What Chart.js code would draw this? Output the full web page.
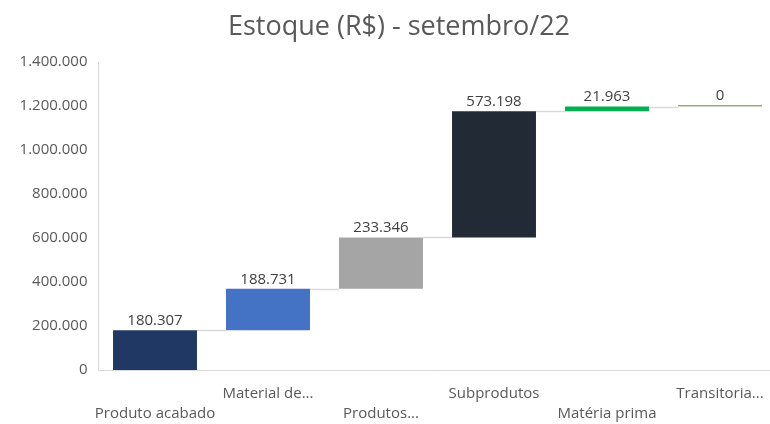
<!DOCTYPE html>
<html>
<head>
<meta charset="utf-8">
<script src="https://cdn.jsdelivr.net/npm/chart.js@4"></script>
<style>
  html, body { margin: 0; padding: 0; background: #fff; overflow: hidden; }
  #wrap { width: 798px; height: 424px; position: relative; }
</style>
</head>
<body>
<div id="wrap"><canvas id="grafico"></canvas></div>
<script>
// Dados
const categorias = ["Produto acabado", "Material de...", "Produtos...", "Subprodutos", "Matéria prima", "Transitoria..."];
const valores = [180307, 188731, 233346, 573198, 21963, 0];
const cores = ["#1F3864", "#4472C4", "#A5A5A5", "#222A35", "#00B050", "#95A97F"];
const yTicks = [0, 200000, 400000, 600000, 800000, 1000000, 1200000, 1400000];

const fonte = "'Open Sans', 'Noto Sans', sans-serif";

// formato 1.234.567
function fmt(v) {
  return String(Math.round(v)).replace(/\B(?=(\d{3})+(?!\d))/g, ".");
}

// barras flutuantes (cascata)
let acumulado = 0;
const barras = valores.map((v) => {
  const ini = acumulado;
  acumulado += v;
  return [ini, acumulado];
});

// linhas de ligação + rótulos de valor
const cascataPlugin = {
  id: "cascata",
  afterDatasetsDraw(chart) {
    const ctx = chart.ctx;
    const meta = chart.getDatasetMeta(0);
    const yScale = chart.scales.y;
    ctx.save();

    // conectores
    ctx.strokeStyle = "#D9D9D9";
    ctx.lineWidth = 1.5;
    for (let i = 0; i < meta.data.length - 1; i++) {
      const a = meta.data[i];
      const b = meta.data[i + 1];
      const y = Math.round(yScale.getPixelForValue(barras[i][1])) + 0.5;
      ctx.beginPath();
      ctx.moveTo(a.x + a.width / 2, y);
      ctx.lineTo(b.x - b.width / 2, y);
      ctx.stroke();
    }

    // rótulos
    ctx.fillStyle = "#404040";
    ctx.font = "15px " + fonte;
    ctx.textAlign = "center";
    ctx.textBaseline = "bottom";
    meta.data.forEach((el, i) => {
      const topo = Math.min(el.y, el.base);
      ctx.fillText(fmt(valores[i]), el.x, topo - 2);
    });
    ctx.restore();
  },
};

const ctx = document.getElementById("grafico").getContext("2d");
new Chart(ctx, {
  type: "bar",
  data: {
    labels: categorias,
    datasets: [
      {
        data: barras,
        backgroundColor: cores,
        borderWidth: 0,
        minBarLength: 1.5,
        categoryPercentage: 1,
        barPercentage: 0.743,
      },
    ],
  },
  options: {
    responsive: true,
    maintainAspectRatio: false,
    animation: false,
    layout: { padding: 0 },
    plugins: {
      legend: { display: false },
      tooltip: { enabled: false },
      title: {
        display: true,
        text: "Estoque (R$) - setembro/22",
        color: "#595959",
        font: { family: fonte, size: 27, weight: "normal" },
        padding: { top: 11, bottom: 18.6 },
      },
    },
    scales: {
      x: {
        grid: { display: false, drawTicks: false },
        border: { display: true, color: "#D9D9D9", width: 1 },
        ticks: {
          autoSkip: false,
          maxRotation: 0,
          minRotation: 0,
          padding: 14,
          color: "#595959",
          font: { family: fonte, size: 15, lineHeight: 1.34 },
          callback: (v, i) => (i % 2 === 0 ? ["", categorias[i]] : [categorias[i], ""]),
        },
        afterFit: (s) => { s.height = 54; },
      },
      y: {
        min: yTicks[0],
        max: yTicks[yTicks.length - 1],
        grid: { display: false, drawTicks: false },
        border: { display: true, color: "#D9D9D9", width: 1 },
        afterBuildTicks: (s) => { s.ticks = yTicks.map((v) => ({ value: v })); },
        ticks: {
          padding: 11,
          color: "#595959",
          font: { family: fonte, size: 15 },
          callback: (v) => fmt(v),
        },
        afterFit: (s) => { s.width = 98.5; },
      },
      // margem à direita (área do gráfico termina antes da borda)
      margem: {
        type: "linear",
        position: "right",
        display: true,
        grid: { display: false, drawTicks: false },
        border: { display: false },
        ticks: { display: false },
        afterFit: (s) => { s.width = 21.5; },
      },
    },
  },
  plugins: [cascataPlugin],
});
</script>
</body>
</html>
